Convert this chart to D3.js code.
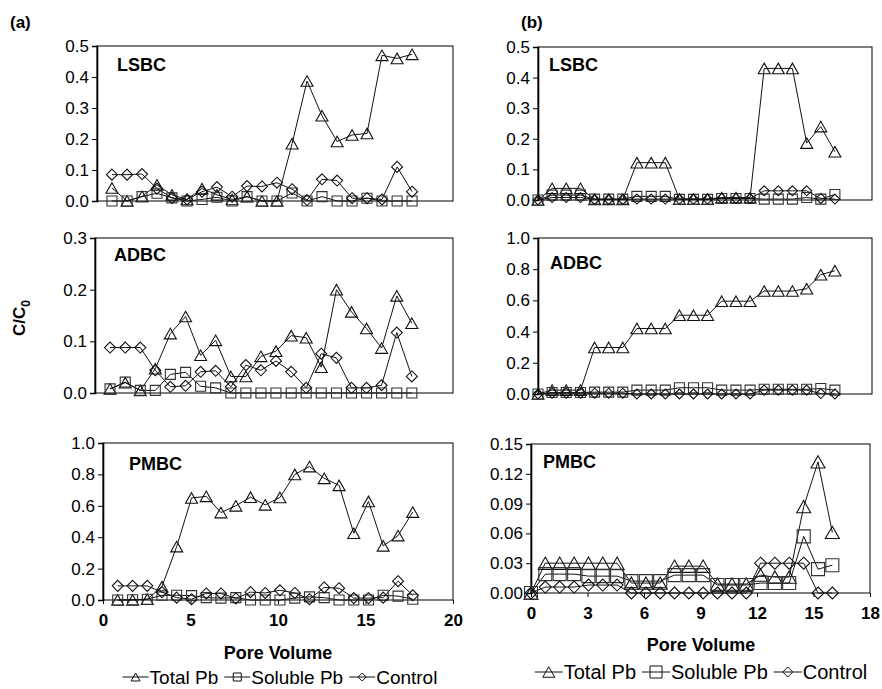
<!DOCTYPE html>
<html><head><meta charset="utf-8">
<script src="https://cdn.jsdelivr.net/npm/d3@7"></script>
<style>
body{margin:0;background:#fff}
text{font-family:"Liberation Sans",Arial,Helvetica,sans-serif;fill:#000}
</style>
</head><body>
<svg id="c" width="882" height="689"></svg>
<script>
// ---------- DATA ----------
const pvA = [0.84,1.69,2.53,3.37,4.21,5.06,5.90,6.74,7.59,8.43,9.27,10.11,10.96,11.80,12.64,13.49,14.33,15.17,16.01,16.86,17.70];
const pvB = [0,0.76,1.52,2.29,3.05,3.81,4.57,5.33,6.10,6.86,7.62,8.38,9.14,9.90,10.67,11.43,12.19,12.95,13.71,14.48,15.24,16.00];

const seriesNames = ["Total Pb","Soluble Pb","Control"];

const lsbcA_total   = [0.042,0,0.015,0.052,0.02,0.005,0.04,0.02,0.005,0.014,0,0,0.185,0.387,0.275,0.192,0.213,0.218,0.47,0.46,0.473];
const lsbcA_soluble = [0,0,0.014,0.025,0.01,0,0.005,0.012,0,0.014,0,0,0.026,0,0.014,0,0,0.009,0,0,0];
const lsbcA_control = [0.085,0.085,0.087,0.04,0.01,0.005,0.03,0.045,0.014,0.048,0.047,0.059,0.038,0.003,0.07,0.066,0.009,0.009,0.005,0.11,0.03];

const adbcA_total   = [0.008,0.02,0.005,0.047,0.115,0.148,0.073,0.102,0.032,0.032,0.071,0.081,0.111,0.107,0.05,0.2,0.157,0.125,0.087,0.188,0.135];
const adbcA_soluble = [0.008,0.021,0.005,0.005,0.036,0.04,0.013,0.01,0,0,0,0,0,0,0,0,0,0,0,0,0];
const adbcA_control = [0.088,0.088,0.088,0.044,0.012,0.014,0.041,0.043,0.012,0.054,0.044,0.062,0.041,0.01,0.076,0.068,0.01,0.01,0.015,0.117,0.032];

const pmbcA_total   = [0,0,0.005,0.085,0.34,0.65,0.66,0.557,0.6,0.655,0.606,0.653,0.80,0.85,0.775,0.73,0.425,0.628,0.345,0.41,0.56];
const pmbcA_soluble = [0,0.002,0.005,0.03,0.03,0.028,0.015,0.012,0.015,0,0,0,0.012,0.02,0.015,0,0,0,0.03,0.025,0.005];
const pmbcA_control = [0.09,0.09,0.09,0.05,0.015,0.005,0.042,0.042,0.01,0.05,0.045,0.062,0.045,0.005,0.08,0.075,0.012,0.012,0.015,0.12,0.03];

const lsbcB_total   = [0,0.038,0.038,0.038,0.002,0.002,0.002,0.122,0.122,0.122,0.003,0.003,0.003,0.008,0.008,0.008,0.43,0.43,0.43,0.186,0.24,0.158];
const lsbcB_soluble = [0,0.016,0.016,0.016,0.003,0.003,0.003,0.012,0.012,0.012,0.002,0.002,0.002,0.005,0.005,0.005,0.003,0.003,0.003,0.008,0.003,0.018];
const lsbcB_control = [0,0.008,0.008,0.008,0.002,0.002,0.002,0.003,0.003,0.003,0.003,0.003,0.003,0.005,0.005,0.005,0.03,0.03,0.03,0.03,0.005,0.003];

const adbcB_total   = [0,0.025,0.025,0.025,0.298,0.298,0.298,0.42,0.42,0.42,0.505,0.505,0.505,0.595,0.595,0.595,0.66,0.66,0.66,0.675,0.765,0.79];
const adbcB_soluble = [0,0.01,0.01,0.01,0.012,0.012,0.012,0.025,0.025,0.025,0.04,0.04,0.04,0.025,0.025,0.025,0.03,0.03,0.03,0.03,0.035,0.025];
const adbcB_control = [0,0.005,0.005,0.005,0.005,0.005,0.005,0,0,0,0,0,0,0,0,0,0.025,0.025,0.025,0.025,0.003,0];

const pmbcB_total   = [0,0.03,0.03,0.03,0.03,0.03,0.03,0.01,0.01,0.01,0.027,0.027,0.027,0.009,0.009,0.009,0.018,0.016,0.016,0.087,0.132,0.061];
const pmbcB_soluble = [0,0.019,0.019,0.019,0.017,0.017,0.017,0.012,0.012,0.012,0.018,0.018,0.018,0.008,0.008,0.008,0.01,0.01,0.01,0.057,0.024,0.028];
const pmbcB_control = [0,0.006,0.006,0.006,0.008,0.008,0.008,0,0,0,0,0,0,0,0,0,0.03,0.03,0.03,0.03,0,0];

const yTicks05  = [0,0.1,0.2,0.3,0.4,0.5];
const yTicks03  = [0,0.1,0.2,0.3];
const yTicks10  = [0,0.2,0.4,0.6,0.8,1.0];
const yTicks015 = [0,0.03,0.06,0.09,0.12,0.15];
const xTicksA = [0,5,10,15,20];
const xTicksB = [0,3,6,9,12,15,18];

// ---------- DRAW ----------
const svg = d3.select("#c");

function markerPath(type, s){
  if(type===0){ const w=s, h=s*0.88; return `M0,${-h/2}L${w/2},${h/2}L${-w/2},${h/2}Z`; }
  if(type===1){ const a=s/2; return `M${-a},${-a}H${a}V${a}H${-a}Z`; }
  const a=s/2; return `M0,${-a}L${a},0L0,${a}L${-a},0Z`;
}

const panels = [
 {name:"LSBC", x:pvA, s:[lsbcA_total,lsbcA_soluble,lsbcA_control], box:[97,453,46,201], xd:[0,20], yd:[0,0.5], yt:yTicks05, fmt:".1f", lab:[117,71], ms:[12,10,11]},
 {name:"ADBC", x:pvA, s:[adbcA_total,adbcA_soluble,adbcA_control], box:[95,453,238,393], xd:[0,20], yd:[0,0.3], yt:yTicks03, fmt:".1f", lab:[114,261], ms:[12,10,11]},
 {name:"PMBC", x:pvA, s:[pmbcA_total,pmbcA_soluble,pmbcA_control], box:[103,453,443,600], xd:[0,20], yd:[0,1.0], yt:yTicks10, fmt:".1f", lab:[129,470], ms:[12,10,11], xt:xTicksA},
 {name:"LSBC", x:pvB, s:[lsbcB_total,lsbcB_soluble,lsbcB_control], box:[538,872,47,200], xd:[0,18], yd:[0,0.5], yt:yTicks05, fmt:".1f", lab:[549,71], ms:[12,10,10]},
 {name:"ADBC", x:pvB, s:[adbcB_total,adbcB_soluble,adbcB_control], box:[538,872,238,394], xd:[0,18], yd:[0,1.0], yt:yTicks10, fmt:".1f", lab:[550,269], ms:[12,10,10]},
 {name:"PMBC", x:pvB, s:[pmbcB_total,pmbcB_soluble,pmbcB_control], box:[531,870,444,593], xd:[0,18], yd:[0,0.15], yt:yTicks015, fmt:".2f", lab:[543,468], ms:[14,13,12], xt:xTicksB}
];

panels.forEach(p=>{
  const [x0,x1,y0,y1] = p.box;
  const x = d3.scaleLinear().domain(p.xd).range([x0,x1]);
  const y = d3.scaleLinear().domain(p.yd).range([y1,y0]);
  const g = svg.append("g");
  g.append("rect").attr("x",x0).attr("y",y0).attr("width",x1-x0).attr("height",y1-y0)
    .attr("fill","none").attr("stroke","#000").attr("stroke-width",1);
  const ya = g.append("g").attr("transform",`translate(${x0},0)`)
    .call(d3.axisLeft(y).tickValues(p.yt).tickSize(5).tickPadding(3).tickFormat(d3.format(p.fmt)));
  ya.select(".domain").attr("stroke-width",1.6);
  ya.selectAll("text").style("font-size","17px");
  if(p.xt){
    const xa = g.append("g").attr("transform",`translate(0,${y1})`)
      .call(d3.axisBottom(x).tickValues(p.xt).tickSize(4).tickPadding(10).tickFormat(d3.format("d")));
    xa.select(".domain").remove();
    xa.selectAll("text").style("font-size","17px").style("font-weight","bold");
  }
  g.append("text").attr("x",p.lab[0]).attr("y",p.lab[1]).text(p.name)
    .style("font-size","18px").style("font-weight","bold");
  const line = d3.line().x((d,i)=>x(p.x[i])).y(d=>y(d));
  p.s.forEach((arr,k)=>{
    g.append("path").datum(arr).attr("d",line).attr("fill","none").attr("stroke","#111").attr("stroke-width",1);
  });
  p.s.forEach((arr,k)=>{
    g.selectAll(null).data(arr).enter().append("path")
      .attr("d",markerPath(k,p.ms[k]))
      .attr("transform",(d,i)=>`translate(${x(p.x[i])},${y(d)})`)
      .attr("fill","none").attr("stroke", k===1?"#333":"#111").attr("stroke-width",1.1);
  });
});

// panel letters
svg.append("text").attr("x",10).attr("y",28).text("(a)").style("font-size","17px").style("font-weight","bold");
svg.append("text").attr("x",521).attr("y",28).text("(b)").style("font-size","17px").style("font-weight","bold");

// y axis title
const yt = svg.append("text").attr("transform","translate(25,318) rotate(-90)")
  .attr("text-anchor","middle").style("font-size","17px").style("font-weight","bold");
yt.append("tspan").text("C/C");
yt.append("tspan").text("0").style("font-size","12px").attr("dy","5");

// x titles
svg.append("text").attr("x",278).attr("y",659).attr("text-anchor","middle").text("Pore Volume").style("font-size","18px").style("font-weight","bold");
svg.append("text").attr("x",701).attr("y",651).attr("text-anchor","middle").text("Pore Volume").style("font-size","18px").style("font-weight","bold");

// legends
function legend(cx, cy, fs, ms, seg, gap){
  const g = svg.append("g");
  let xpos = 0;
  seriesNames.forEach((n,k)=>{
    const it = g.append("g").attr("transform",`translate(${xpos},0)`);
    it.append("line").attr("x1",0).attr("x2",seg).attr("y1",0).attr("y2",0).attr("stroke","#111").attr("stroke-width",1);
    it.append("path").attr("d",markerPath(k,ms[k])).attr("transform",`translate(${seg/2},0)`)
      .attr("fill","none").attr("stroke","#111").attr("stroke-width",1);
    const t = it.append("text").attr("x",seg+1).attr("y",0).attr("dy","0.36em").text(n).style("font-size",fs+"px");
    xpos += seg + 1 + t.node().getComputedTextLength() + gap;
  });
  const w = xpos - gap;
  g.attr("transform",`translate(${cx - w/2},${cy})`);
}
legend(280, 677, 19, [9,8,8], 26, 6);
legend(701, 672, 20, [12,12,10], 28, 6);
</script>
</body></html>
